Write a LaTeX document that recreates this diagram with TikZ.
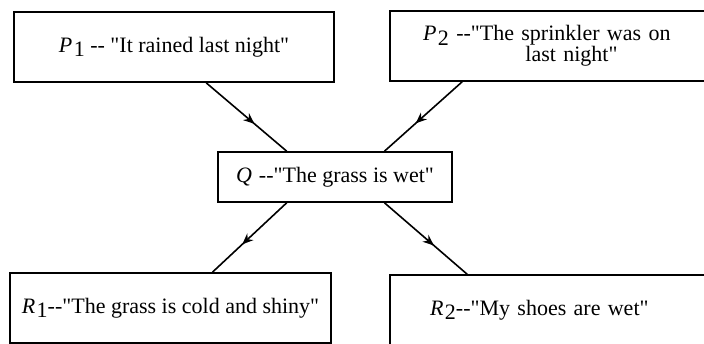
\documentclass[tikz,border=0pt]{standalone}
\usepackage{fontspec}
\newfontfamily\tnrfont{Liberation Serif}
\usetikzlibrary{arrows.meta, calc, decorations.markings}
\newcommand{\prop}[2]{\textit{#1}\kern1.5pt\raisebox{-0.45ex}{#2}}
\tikzset{
  stmt/.style={rectangle, draw, line width=1.6pt, minimum height=70pt,
    inner sep=0pt, align=center, font=\tnrfont\fontsize{22}{21}\selectfont},
  stmtl/.style={stmt, align=left, text width=#1},
  infer/.style={line width=1.6pt, postaction={decorate},
    decoration={markings, mark=at position 0.6 with {\arrow{Stealth[length=11pt, width=9pt, inset=3.5pt]}}}},
}

\begin{document}
\begin{tikzpicture}[x=1pt, y=-1pt]
\path[use as bounding box, clip] (0,0) rectangle (704,343);

% premises
\node[stmt, minimum width=320pt] (p1) at (174,47) {\prop{P}{1} -- "It rained last night"};
\node[stmtl=264pt, minimum width=330pt, inner xsep=33pt] (p2) at (555,46)
  {\prop{P}{2} --"The sprinkler was on\\\hphantom{\prop{P}{2} --"The }\kern4pt last night"};

% intermediate claim
\node[stmt, minimum width=234pt, minimum height=50pt] (q) at (335,177) {\prop{Q}{} --"The grass is wet"};

% consequences
\node[stmt, minimum width=321pt] (r1) at (170.5,308) {\prop{R}{1}--"The grass is cold and shiny"};
\node[stmtl=250pt, minimum width=330pt, inner xsep=40pt] (r2) at (555,310) {\prop{R}{2}--"My shoes are wet"};

\draw[infer] ($(p1.south west)!0.60!(p1.south east)$) -- ($(q.north west)!0.295!(q.north east)$);
\draw[infer] ($(p2.south west)!0.22!(p2.south east)$) -- ($(q.north west)!0.71!(q.north east)$);
\draw[infer] ($(q.south west)!0.295!(q.south east)$) -- ($(r1.north west)!0.63!(r1.north east)$);
\draw[infer] ($(q.south west)!0.71!(q.south east)$) -- ($(r2.north west)!0.235!(r2.north east)$);
\end{tikzpicture}
\end{document}
